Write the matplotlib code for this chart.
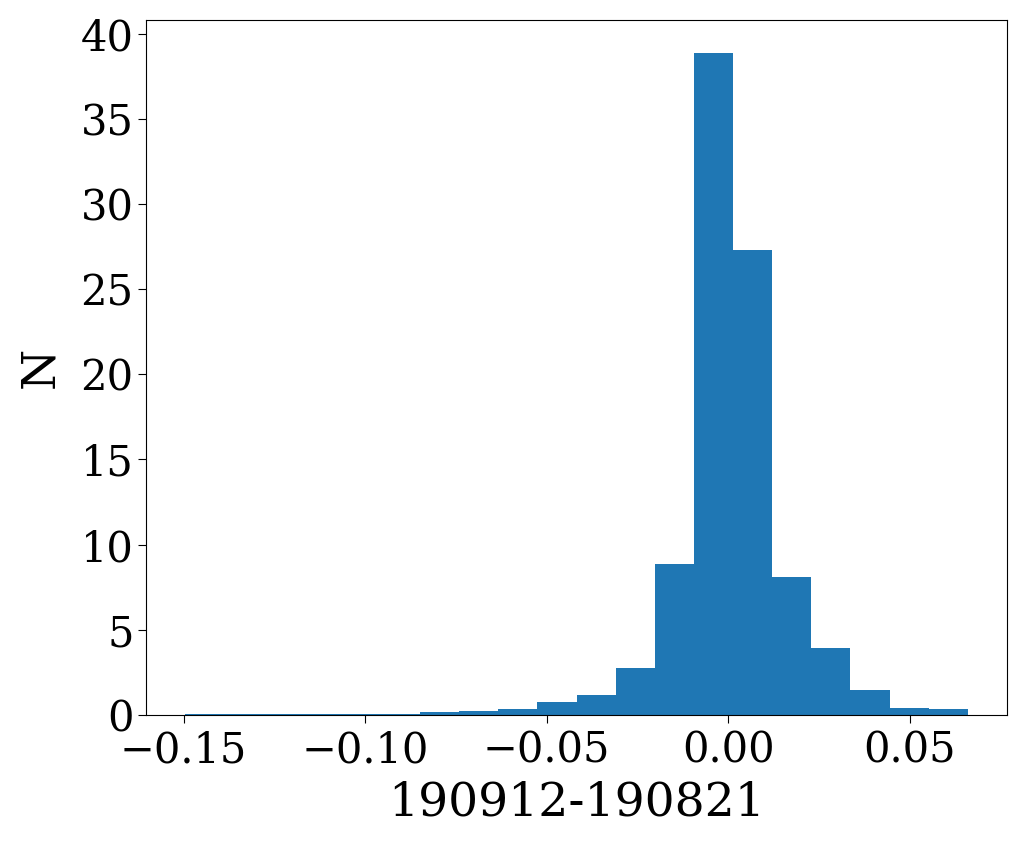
import numpy as np
import matplotlib
matplotlib.use("Agg")
import matplotlib.pyplot as plt

plt.rcParams['font.family'] = 'DejaVu Serif'

# Bin range and count of the histogram
x_min = -0.1496
x_max = 0.066
n_bins = 20

# Bar heights (density)
heights = [0.05, 0.05, 0.05, 0.05, 0.05, 0.05, 0.15, 0.2, 0.37, 0.78,
           1.18, 2.75, 8.84, 38.86, 27.3, 8.1, 3.94, 1.45, 0.43, 0.35]

edges = np.linspace(x_min, x_max, n_bins + 1)

fig = plt.figure(figsize=(10.24, 8.5), dpi=100)
ax = fig.add_axes([0.1426, 0.159, 0.8408, 0.8175])
ax.bar(edges[:-1], heights, width=np.diff(edges), align='edge', color='#1f77b4')
ax.set_xticks([-0.15, -0.10, -0.05, 0.00, 0.05])
ax.set_yticks([0, 5, 10, 15, 20, 25, 30, 35, 40])
ax.tick_params(labelsize=30, length=5.5)
ax.tick_params(axis='x', pad=5)
ax.set_xlabel("190912-190821", fontsize=34, labelpad=6)
ax.set_ylabel("N", fontsize=34, labelpad=12)
fig.savefig("out.png")
